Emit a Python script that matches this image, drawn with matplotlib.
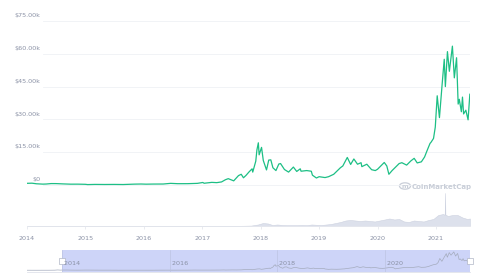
import matplotlib
matplotlib.use("Agg")
import matplotlib.pyplot as plt
import matplotlib.dates as mdates
import numpy as np
import pandas as pd

# price (USD)
price_dates = [
    "2013-05-06", "2013-06-01", "2013-07-05", "2013-08-15", "2013-10-01", "2013-11-10",
    "2013-11-30", "2013-12-18",
    "2014-01-01", "2014-02-01", "2014-03-01", "2014-04-10", "2014-05-01", "2014-06-01",
    "2014-07-01", "2014-08-15", "2014-10-01", "2014-11-15",
    "2015-01-01", "2015-01-15", "2015-03-01", "2015-05-01", "2015-07-01", "2015-08-25",
    "2015-11-05", "2015-12-15",
    "2016-01-15", "2016-03-01", "2016-05-01", "2016-06-17", "2016-08-01", "2016-10-01",
    "2016-12-01",
    "2017-01-04", "2017-01-12", "2017-03-01", "2017-04-01", "2017-05-01", "2017-05-25",
    "2017-06-12", "2017-07-16", "2017-08-15", "2017-09-01", "2017-09-15", "2017-10-01",
    "2017-10-20", "2017-11-08", "2017-11-12", "2017-12-01", "2017-12-08", "2017-12-17",
    "2017-12-22",
    "2018-01-06", "2018-01-17", "2018-02-06", "2018-02-20", "2018-03-05", "2018-03-18",
    "2018-04-06", "2018-04-24", "2018-05-05", "2018-05-29", "2018-06-24", "2018-07-24",
    "2018-08-14", "2018-09-05", "2018-09-10", "2018-10-15", "2018-11-13", "2018-11-20",
    "2018-12-15",
    "2019-01-01", "2019-02-07", "2019-03-01", "2019-04-02", "2019-05-14", "2019-05-29",
    "2019-06-26", "2019-07-17", "2019-08-06", "2019-08-29", "2019-09-20", "2019-09-25",
    "2019-10-26", "2019-11-25", "2019-12-18",
    "2020-01-01", "2020-02-12", "2020-02-28", "2020-03-12", "2020-04-01", "2020-04-30",
    "2020-05-15", "2020-06-01", "2020-07-01", "2020-07-27", "2020-08-17", "2020-09-05",
    "2020-10-01", "2020-10-21", "2020-11-05", "2020-11-24", "2020-12-01", "2020-12-16",
    "2020-12-27",
    "2021-01-08", "2021-01-22", "2021-02-08", "2021-02-21", "2021-02-28", "2021-03-13",
    "2021-03-25", "2021-04-13", "2021-04-25", "2021-05-09", "2021-05-19", "2021-05-26",
    "2021-06-08", "2021-06-15", "2021-06-22", "2021-07-06", "2021-07-20", "2021-07-31",
]
price = [
    135, 120, 70, 110, 125, 330, 1100, 550,
    770, 830, 560, 400, 450, 650, 640, 500, 380, 390,
    315, 190, 270, 235, 260, 220, 400, 450,
    380, 430, 450, 750, 600, 610, 750,
    1150, 800, 1200, 1080, 1400, 2400, 2900, 1900, 4300, 4900, 3300, 4400,
    6000, 7400, 5900, 10900, 16000, 19300, 13800,
    17200, 11200, 6900, 11400, 11500, 7900, 6600, 9600, 9800, 7100, 5900, 8200,
    6200, 7400, 6300, 6600, 6300, 4500, 3200,
    3800, 3400, 3800, 4900, 7900, 8700, 12600, 9400, 11900, 9500, 10200, 8400,
    9500, 7000, 6600,
    7200, 10300, 8700, 4900, 6600, 8700, 9800, 10200, 9100, 11000, 12200, 10100,
    10600, 12800, 15600, 19000, 19600, 21300, 26500,
    40800, 30800, 46200, 57500, 45000, 61000, 52000, 63500, 49000, 58200, 37000, 39200,
    33500, 40200, 32500, 34200, 29800, 41500,
]

# volume (billion USD)
vol_dates = [
    "2014-01-01", "2016-12-01", "2017-06-01", "2017-09-01", "2017-11-01", "2017-12-15",
    "2018-01-15", "2018-02-15", "2018-03-15", "2018-04-15", "2018-05-15", "2018-06-15",
    "2018-07-15", "2018-08-15", "2018-09-15", "2018-10-15", "2018-11-15", "2018-12-15",
    "2019-01-15", "2019-02-15", "2019-03-15", "2019-04-15", "2019-05-15", "2019-06-15",
    "2019-07-15", "2019-08-15", "2019-09-15", "2019-10-15", "2019-11-15", "2019-12-15",
    "2020-01-15", "2020-02-15", "2020-03-15", "2020-04-15", "2020-05-15", "2020-06-15",
    "2020-07-15", "2020-08-15", "2020-09-15", "2020-10-15", "2020-11-15", "2020-12-15",
    "2021-01-15", "2021-02-15", "2021-02-24", "2021-02-26", "2021-02-28", "2021-03-15",
    "2021-04-15", "2021-05-15", "2021-06-15", "2021-07-15", "2021-07-31",
]
volume = [
    0.1, 0.3, 1.5, 2, 4, 15,
    30, 25, 10, 15, 10, 8,
    8, 8, 10, 8, 15, 12,
    10, 15, 20, 30, 40, 55,
    60, 55, 50, 55, 50, 45,
    55, 65, 75, 65, 70, 45,
    40, 55, 50, 45, 60, 70,
    110, 120, 110, 330, 115, 100,
    110, 110, 85, 70, 75,
]

y_ticks = [0, 15000, 30000, 45000, 60000, 75000]
y_labels = ["$0", "$15.00k", "$30.00k", "$45.00k", "$60.00k", "$75.00k"]
main_years = [2014, 2015, 2016, 2017, 2018, 2019, 2020, 2021]
nav_years = [2014, 2016, 2018, 2020]

t = mdates.date2num(pd.to_datetime(price_dates))
tv = mdates.date2num(pd.to_datetime(vol_dates))

green = "#1dbf85"
grey_txt = "#8a91a5"
W, H = 480, 278

fig = plt.figure(figsize=(4.8, 2.78), dpi=100)
fig.patch.set_facecolor("white")

# main chart
ax = fig.add_axes([27 / W, 1 - 226 / H, 443 / W, 205 / H])
x0 = mdates.date2num(pd.Timestamp("2014-01-01"))
x1 = mdates.date2num(pd.Timestamp("2021-08-01"))
ax.set_xlim(x0, x1)
ax.set_ylim(-18750, 75000)
for s in ["top", "right", "left"]:
    ax.spines[s].set_visible(False)
ax.spines["bottom"].set_color("#e6e8ee")
ax.spines["bottom"].set_linewidth(0.6)

for v, lab in zip(y_ticks, y_labels):
    ax.axhline(v, xmin=0.035, xmax=1, color="#eff1f5", lw=0.6, zorder=0)
    ax.annotate(lab, xy=(0.03, v), xycoords=("axes fraction", "data"),
                xytext=(0, 2), textcoords="offset points",
                ha="right", va="bottom", fontsize=4.6, color=grey_txt)
ax.set_yticks([])

ticks = [mdates.date2num(pd.Timestamp(f"{y}-01-01")) for y in main_years]
ax.set_xticks(ticks)
ax.set_xticklabels([str(y) for y in main_years], fontsize=4.6, color=grey_txt)
ax.tick_params(axis="x", length=2, width=0.5, color="#e0e3ea", pad=5)

# volume on its own scale, 1 px ~ 10B
axv = ax.twinx()
axv.set_ylim(0, 2050)
axv.fill_between(tv, volume, color="#dde1ec", lw=0.4, edgecolor="#cdd2e0")
axv.set_axis_off()
axv.set_xlim(x0, x1)

ax.set_zorder(axv.get_zorder() + 1)
ax.patch.set_visible(False)
ax.plot(t, price, color=green, lw=0.9, solid_joinstyle="round")

# watermark
fig.text(412 / W, 1 - 187 / H, "CoinMarketCap", fontsize=5, color="#c9ced8",
         fontweight="bold", va="center", ha="left")
circ = plt.Circle((405 / W, 1 - 186 / H), 5.5 / W, transform=fig.transFigure,
                  fill=False, ec="#c9ced8", lw=0.9)
fig.add_artist(circ)
fig.text(405 / W, 1 - 186.5 / H, "m", fontsize=4.5, color="#c9ced8",
         fontweight="bold", ha="center", va="center")

# navigator
nav = fig.add_axes([27 / W, 1 - 272 / H, 443 / W, 22 / H])
n0 = mdates.date2num(pd.Timestamp("2013-05-06"))
nav.set_xlim(n0, x1)
nav.set_ylim(-6000, 70000)
nav.axvspan(x0, x1, color="#cdd4f8", lw=0)
nav.plot(t, price, color="#a4abbd", lw=0.5)
for s in ["top", "right", "left"]:
    nav.spines[s].set_visible(False)
nav.spines["bottom"].set_color("#dfe2ea")
nav.spines["bottom"].set_linewidth(0.6)
nav.set_xticks([])
nav.set_yticks([])
for y in nav_years:
    xx = mdates.date2num(pd.Timestamp(f"{y}-01-01"))
    nav.axvline(xx, color="#b9c0dd", lw=0.4)
    nav.text(xx, 0.5, f" {y}", transform=nav.get_xaxis_transform(),
             fontsize=4.6, color=grey_txt, ha="left", va="top")
for xx in [x0, x1]:
    nav.plot([xx], [0.5], marker="s", ms=4.5, mfc="white", mec="#b0b6c6",
             mew=0.5, transform=nav.get_xaxis_transform(), clip_on=False)

fig.savefig("out.png", dpi=100, facecolor="white")
